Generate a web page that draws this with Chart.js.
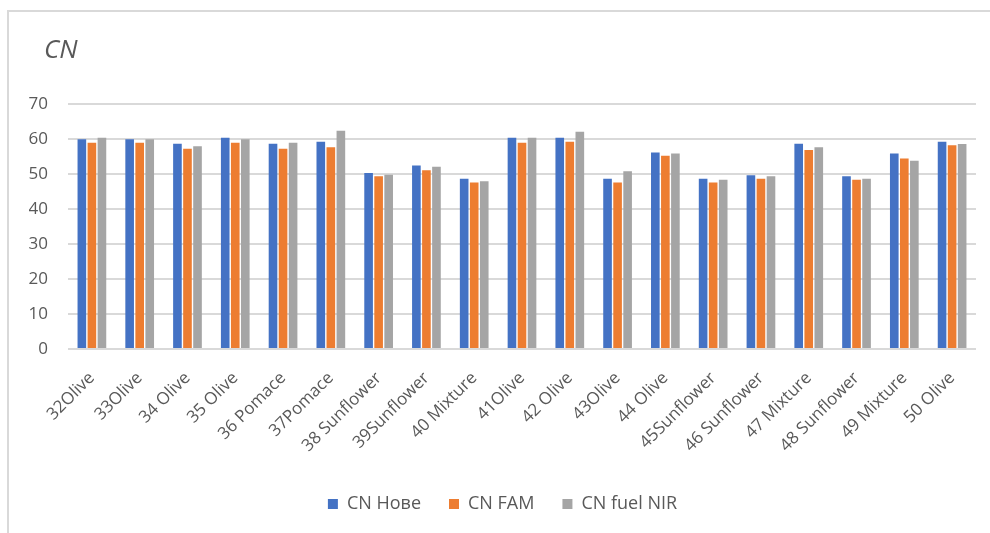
<!DOCTYPE html>
<html>
<head>
<meta charset="utf-8">
<script src="https://cdn.jsdelivr.net/npm/chart.js@4.4.1/dist/chart.umd.min.js"></script>
<style>
  html, body { margin: 0; padding: 0; background: #fff; width: 990px; height: 533px; overflow: hidden; }
  #frame { position: absolute; left: 7px; top: 10px; width: 1000px; height: 540px;
           border-left: 2px solid #d9d9d9; border-top: 2px solid #d9d9d9; box-sizing: border-box; }
  #wrap { position: absolute; left: 0; top: 0; width: 990px; height: 533px; }
</style>
</head>
<body>
<div id="frame"></div>
<div id="wrap"><canvas id="c" width="990" height="533"></canvas></div>
<script>
const categories = ["32Olive","33Olive","34 Olive","35 Olive","36 Pomace","37Pomace","38 Sunflower","39Sunflower","40 Mixture","41Olive","42 Olive","43Olive","44 Olive","45Sunflower","46 Sunflower","47 Mixture","48 Sunflower","49 Mixture","50 Olive"];
const cnHove    = [60.0, 60.0, 58.7, 60.4, 58.7, 59.3, 50.3, 52.5, 48.7, 60.4, 60.4, 48.7, 56.2, 48.7, 49.7, 58.7, 49.4, 55.9, 59.3];
const cnFAM     = [59.0, 59.0, 57.3, 59.0, 57.3, 57.7, 49.4, 51.1, 47.6, 59.0, 59.3, 47.6, 55.3, 47.6, 48.7, 56.9, 48.4, 54.5, 58.3];
const cnFuelNIR = [60.4, 60.0, 58.0, 60.0, 59.0, 62.4, 49.8, 52.1, 48.0, 60.4, 62.1, 50.8, 55.9, 48.4, 49.4, 57.7, 48.7, 53.8, 58.6];
const seriesNames = ["CN Нове", "CN FAM", "CN fuel NIR"];
const yTicks = [0, 10, 20, 30, 40, 50, 60, 70];

const txt = '#595959';
const fam = '"Open Sans", "Noto Sans", sans-serif';

const titleShift = {
  id: 'titleShift',
  afterLayout(chart) {
    const t = chart.titleBlock;
    if (t) { const d = 44 - t.left; t.left += d; t.right += d; }
  }
};

new Chart(document.getElementById('c'), {
  type: 'bar',
  data: {
    labels: categories,
    datasets: [
      { label: seriesNames[0], data: cnHove,    backgroundColor: '#4472C4' },
      { label: seriesNames[1], data: cnFAM,     backgroundColor: '#ED7D31' },
      { label: seriesNames[2], data: cnFuelNIR, backgroundColor: '#A5A5A5' }
    ]
  },
  plugins: [titleShift],
  options: {
    responsive: false,
    animation: false,
    devicePixelRatio: 1,
    layout: { autoPadding: false, padding: { left: 29, right: 14, top: 35, bottom: 10 } },
    datasets: { bar: { categoryPercentage: 0.63, barPercentage: 0.86 } },
    plugins: {
      title: {
        display: true, text: 'CN', align: 'start', color: txt,
        font: { family: fam, size: 26, style: 'italic', weight: 'normal' },
        padding: { top: 0, bottom: 38 }
      },
      legend: {
        position: 'bottom',
        labels: { color: txt, boxWidth: 10, boxHeight: 10, padding: 28,
                  font: { family: fam, size: 18 } }
      },
      tooltip: { enabled: false }
    },
    scales: {
      x: {
        grid: { display: false },
        border: { display: false },
        afterFit: (s) => { s.paddingLeft = 0; s.paddingRight = 0; },
        ticks: { color: txt, font: { family: fam, size: 17 }, minRotation: 45, maxRotation: 45, padding: 11, labelOffset: 0, autoSkip: false }
      },
      y: {
        min: 0, max: 70,
        afterFit: (s) => { s.width = 39; },
        afterBuildTicks: (s) => { s.ticks = yTicks.map(v => ({ value: v })); },
        grid: { color: '#d9d9d9', lineWidth: 2, drawTicks: false },
        border: { display: false },
        ticks: { color: txt, font: { family: fam, size: 17 }, padding: 20 }
      }
    }
  }
});
</script>
</body>
</html>
